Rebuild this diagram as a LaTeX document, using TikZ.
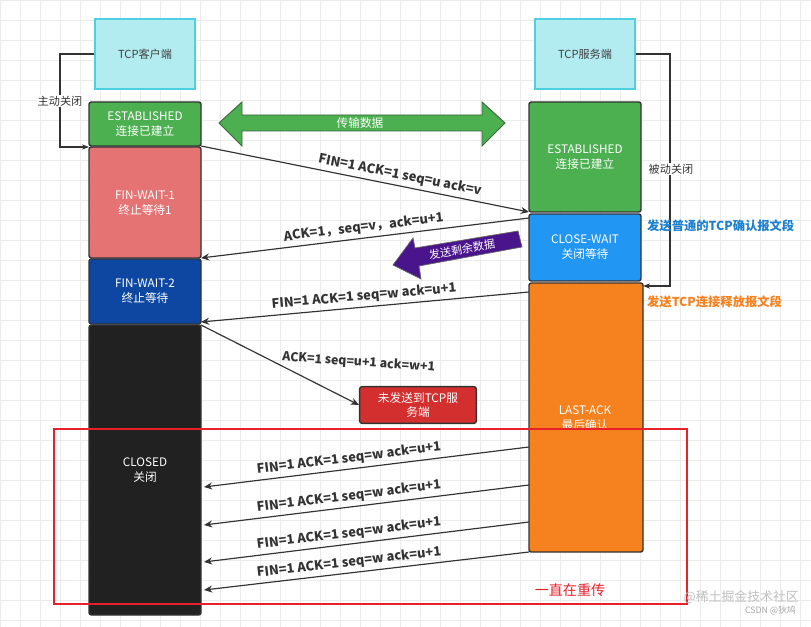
\documentclass[tikz,border=0pt]{standalone}
\usepackage{fontspec}
\setmainfont{Noto Sans CJK SC}
\usetikzlibrary{arrows.meta,shapes.arrows}
\definecolor{cyanbox}{HTML}{B2EBF0}
\definecolor{cyanbd}{HTML}{4DD0E1}
\definecolor{grn}{HTML}{4CAF50}
\definecolor{pink}{HTML}{E57373}
\definecolor{dblue}{HTML}{0D47A1}
\definecolor{lblue}{HTML}{2196F3}
\definecolor{orng}{HTML}{F5821F}
\definecolor{dred}{HTML}{D32F2F}
\definecolor{purp}{HTML}{4A148C}
\definecolor{bline}{HTML}{333333}
\definecolor{frame}{HTML}{E8202A}
\tikzset{
  px/.style={x=0.03cm,y=-0.03cm},
  tcp/.style={draw=cyanbd,fill=cyanbox,line width=1.2pt,text=black!75,font=\fontsize{9.5}{11}\selectfont,align=center},
  st/.style={draw=bline,line width=1.2pt,rounded corners=2pt,text=white,font=\fontsize{10}{12.5}\selectfont,align=center},
  msg/.style={draw=bline,line width=1pt,-{Stealth[length=7pt,width=6pt]}},
  lbl/.style={font=\bfseries\fontsize{11}{13}\selectfont,text=black!80,sloped,above,inner sep=3pt},
  side/.style={font=\fontsize{9.5}{11}\selectfont,text=black!80,fill=white,inner sep=1pt},
}
\begin{document}
\begin{tikzpicture}[px]
\useasboundingbox (0,0) rectangle (811,627);
\fill[white] (0,0) rectangle (811,627);
\draw[black!8,step=0.6cm] (0,0) grid (811,627);
% header boxes
\node[tcp,minimum width=3cm,minimum height=2.1cm] (cli) at (145,54) {TCP客户端};
\node[tcp,minimum width=3cm,minimum height=2.1cm] (srv) at (585,54) {TCP服务端};
% client states
\path[st,fill=grn] (89,102) rectangle (201,146);
\node[st,draw=none] (ce) at (145,124) {ESTABLISHED\\连接已建立};
\path[st,fill=pink] (89,147) rectangle (201,258);
\node[st,draw=none] (fw1) at (145,203) {FIN-WAIT-1\\终止等待1};
\path[st,fill=dblue] (89,259) rectangle (201,324);
\node[st,draw=none] (fw2) at (145,291) {FIN-WAIT-2\\终止等待};
\path[st,fill=black!87] (89,325) rectangle (201,615);
\node[st,draw=none] (cl) at (145,470) {CLOSED\\关闭};
% server states
\path[st,fill=grn] (529,102) rectangle (641,212);
\node[st,draw=none] (se) at (585,157) {ESTABLISHED\\连接已建立};
\path[st,fill=lblue] (529,214) rectangle (641,281);
\node[st,draw=none] (cw) at (585,247) {CLOSE-WAIT\\关闭等待};
\path[st,fill=orng] (529,283) rectangle (643,552);
\node[st,draw=none] (la) at (585,418) {LAST-ACK\\最后确认};
% coordinates
\coordinate (c1) at (201,146); \coordinate (s1) at (529,212);
\coordinate (s2) at (529,218); \coordinate (c2) at (201,258);
\coordinate (s3) at (529,292); \coordinate (c3) at (201,322);
\coordinate (c4) at (201,325);
% double arrow
\fill[grn,draw=bline!60!grn,line width=0.8pt] (219,123) -- (242,102) -- (242,115) -- (482,115) -- (482,102) -- (505,123) -- (482,146) -- (482,131) -- (242,131) -- (242,146) -- cycle;
\node[font=\fontsize{10}{11}\selectfont,text=white] (data) at (360,123) {传输数据};
% close paths
\draw[bline,line width=1pt,-{Stealth[length=6pt]}] (cli.west) -| (60,147) -- (89,147);
\node[side] at (60,101) {主动关闭};
\draw[bline,line width=1pt,-{Stealth[length=6pt]}] (srv.east) -| (670,286) -- (643,286);
\node[side] at (671,169) {被动关闭};
% messages
\draw[msg] (c1) -- node[lbl,pos=0.6] {FIN=1 ACK=1 seq=u ack=v} (s1);
\draw[msg] (s2) -- node[lbl,pos=0.5] {ACK=1，seq=v，ack=u+1} (c2);
\draw[msg] (s3) -- node[lbl,pos=0.5] {FIN=1 ACK=1 seq=w ack=u+1} (c3);
% purple arrow
\fill[purp,draw=black!60,line width=0.6pt] (393,265) -- (413,238) -- (415,248) -- (518,231) -- (522,247) -- (419,266) -- (421,279) -- cycle;
\node[font=\fontsize{9.5}{11}\selectfont,text=white,rotate=10] (rem) at (462,249) {发送剩余数据};
% lost ack
\node[st,fill=dred,minimum width=3.5cm,minimum height=1.1cm,font=\fontsize{10}{12}\selectfont] (lost) at (418,405) {未发送到TCP服\\务端};
\draw[msg] (c4) -- node[pos=0.5,anchor=south west,font=\bfseries\fontsize{10.5}{12}\selectfont,text=black!80,rotate=-4,inner sep=1pt] {ACK=1 seq=u+1 ack=w+1} (lost.west);
% retransmissions
\foreach \ys/\yc [count=\i] in {447/487,485/525,522/562,552/590}{
  \coordinate (rs\i) at (529,\ys); \coordinate (rc\i) at (204,\yc);
  \draw[msg] (rs\i) -- node[lbl,pos=0.55] {FIN=1 ACK=1 seq=w ack=u+1} (rc\i);
}
% side notes
\node[anchor=west,font=\bfseries\fontsize{10.5}{12}\selectfont,text=lblue!85!black] (n1) at (643,226) {发送普通的TCP确认报文段};
\node[anchor=west,font=\bfseries\fontsize{10.5}{12}\selectfont,text=orng] (n2) at (643,302) {发送TCP连接释放报文段};
% red frame
\draw[frame,line width=2.5pt] (54,429) rectangle (687,604);
\node[font=\fontsize{12}{14}\selectfont,text=frame] (rt) at (570,590) {一直在重传};
\node[font=\fontsize{11}{13}\selectfont,text=black!25,anchor=east] (wm) at (803,597) {@稀土掘金技术社区};
\node[font=\fontsize{7.5}{9}\selectfont,text=black!35,anchor=east] (wm2) at (800,611) {CSDN @狄鸠};
\end{tikzpicture}
\end{document}
